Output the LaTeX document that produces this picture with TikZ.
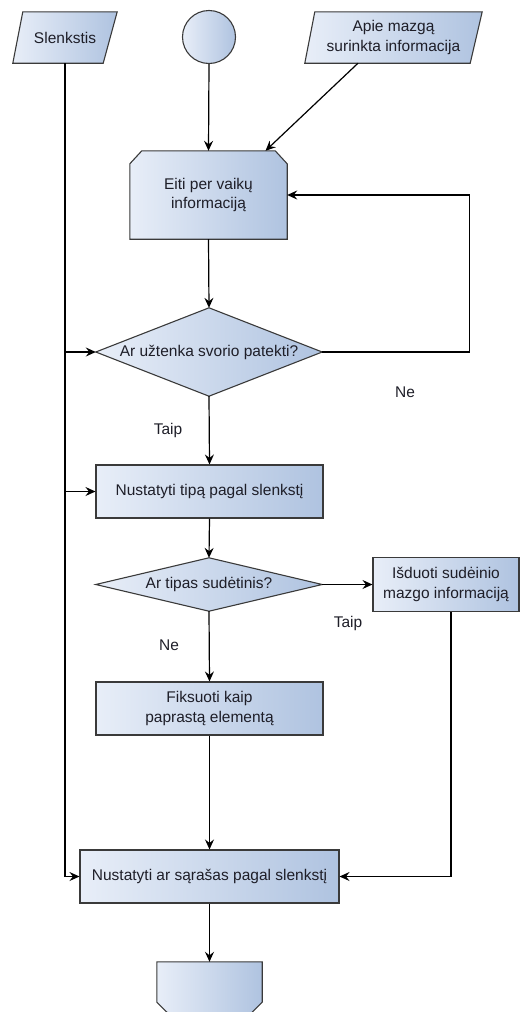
\documentclass[tikz,border=0pt]{standalone}
\usepackage{fontspec}
\setmainfont{Liberation Sans}
\usetikzlibrary{arrows.meta,calc,backgrounds}

\definecolor{gradL}{HTML}{E8EEF8}
\definecolor{gradR}{HTML}{AFC3E0}
\definecolor{edge}{HTML}{3A3A3A}
\definecolor{txt}{HTML}{1E1E28}

\tikzset{
  lbl/.style={font=\fontsize{15.5}{19.5}\selectfont, text=txt},
  holder/.style={lbl, draw=none, inner sep=0pt, align=center},
  fillshape/.style={draw=edge, line width=1.1pt, left color=gradL, right color=gradR},
  procbox/.style={holder, fillshape},
  flow/.style={draw=black, line width=1.2pt, -{Stealth[length=10pt,width=9pt,inset=3.5pt]}},
  lab/.style={lbl, inner sep=0pt}
}

\begin{document}
\begin{tikzpicture}[x=1pt,y=-1pt]
  \useasboundingbox (0,0) rectangle (521,1012);
  \clip (0,0) rectangle (521,1012);

  % inputs and start
  \node[holder, minimum width=104, minimum height=51] (slen) at (65,37.5) {Slenkstis};
  \node[circle, fillshape, inner sep=0pt, minimum size=53] (start) at (209,37) {};
  \node[holder, minimum width=177, minimum height=51] (apie) at (393.5,37.5) {Apie mazgą\\surinkta informacija};

  % loop over children
  \node[holder, minimum width=157, minimum height=88] (eiti) at (208.5,195) {Eiti per vaikų\\informaciją};
  \node[holder, minimum width=226, minimum height=88] (q1) at (209,352) {Ar užtenka svorio patekti?};

  % type handling
  \node[procbox, minimum width=227, minimum height=53] (tipas) at (209.5,491.5) {Nustatyti tipą pagal slenkstį};
  \node[holder, minimum width=226, minimum height=53] (q2) at (209,584.5) {Ar tipas sudėtinis?};
  \node[procbox, minimum width=146, minimum height=54] (isd) at (446,584.5) {Išduoti sudėinio\\mazgo informaciją};
  \node[procbox, minimum width=227, minimum height=53] (fiks) at (209.5,708.5) {Fiksuoti kaip\\paprastą elementą};
  \node[procbox, minimum width=259, minimum height=53] (sar) at (209.5,876.5) {Nustatyti ar sąrašas pagal slenkstį};

  % off-page connector
  \node[holder, minimum width=105, minimum height=92] (off) at (209.5,1008) {};

  % branch labels
  \node[lab] (ne1) at (405,392) {Ne};
  \node[lab] (taip1) at (168,430) {Taip};
  \node[lab] (taip2) at (348,623) {Taip};
  \node[lab] (ne2) at (169,645) {Ne};

  % shape outlines behind the texts
  \begin{scope}[on background layer]
    \path[fillshape] ([xshift=10pt]slen.north west) -- (slen.north east)
      -- ([xshift=-14pt]slen.south east) -- (slen.south west) -- cycle;
    \path[fillshape] ([xshift=10pt]apie.north west) -- (apie.north east)
      -- ([xshift=-12pt]apie.south east) -- (apie.south west) -- cycle;
    \path[fillshape] ([yshift=-13pt]eiti.north west) -- ([xshift=12pt]eiti.north west)
      -- ([xshift=-12pt]eiti.north east) -- ([yshift=-13pt]eiti.north east)
      -- (eiti.south east) -- (eiti.south west) -- cycle;
    \path[fillshape] (q1.north) -- (q1.east) -- (q1.south) -- (q1.west) -- cycle;
    \path[fillshape] (q2.north) -- (q2.east) -- (q2.south) -- (q2.west) -- cycle;
    \path[fillshape] (off.north west) -- (off.north east) -- ([yshift=52pt]off.south east)
      -- (off.south) -- ([yshift=52pt]off.south west) -- cycle;
  \end{scope}

  % connectors
  \draw[flow] (start.south) -- (eiti.north);
  \draw[flow] ([xshift=-35.5pt]apie.south) -- ([xshift=57pt]eiti.north);
  \draw[flow] (eiti.south) -- (q1.north);
  \draw[flow] (q1.east) -- ++(147,0) |- (eiti.east);
  \draw[flow] (q1.south) -- (tipas.north);
  \draw[flow] (slen.south) |- (sar.west);
  \draw[flow] (slen.south |- q1.west) -- (q1.west);
  \draw[flow] (slen.south |- tipas.west) -- (tipas.west);
  \draw[flow] (tipas.south) -- (q2.north);
  \draw[flow] (q2.east) -- (isd.west);
  \draw[flow] (q2.south) -- (fiks.north);
  \draw[flow] (fiks.south) -- (sar.north);
  \draw[flow] ([xshift=5pt]isd.south) |- (sar.east);
  \draw[flow] (sar.south) -- (off.north);
\end{tikzpicture}
\end{document}
